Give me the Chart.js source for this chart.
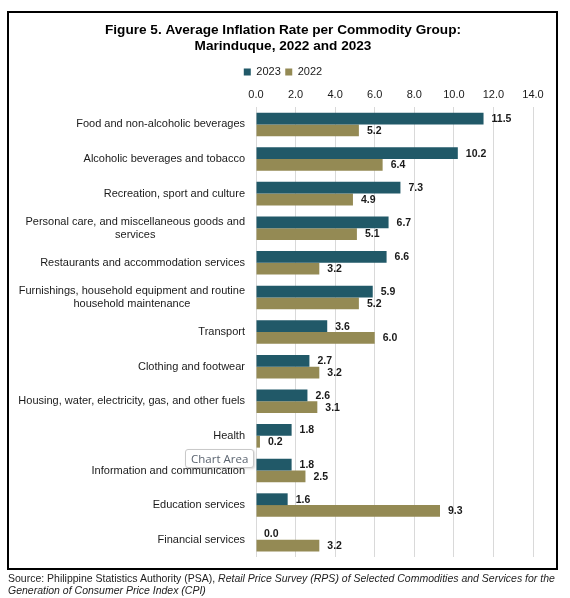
<!DOCTYPE html>
<html>
<head>
<meta charset="utf-8">
<script src="https://cdn.jsdelivr.net/npm/chart.js@4"></script>
<style>
  html, body { margin: 0; padding: 0; background: #fff; overflow: hidden; }
  body { width: 570px; height: 598px; position: relative; font-family: "Liberation Sans", Arial, sans-serif; }
  #wrap { position: absolute; left: 0; top: 0; width: 570px; height: 598px; }
  #frame { position: absolute; left: 7px; top: 11px; width: 551px; height: 559px; border: 2px solid #000; box-sizing: border-box; pointer-events: none; }
  #source { position: absolute; left: 8px; top: 572px; font-size: 10.5px; line-height: 12px; color: #222; white-space: nowrap; }
  #tip { position: absolute; left: 185px; top: 449px; padding: 0 5px; height: 17px; line-height: 17px; font-family: "Open Sans", sans-serif; font-size: 11.5px; color: #5b6470; background: #fff; border: 1px solid #c9c9c9; border-radius: 3px; box-shadow: 1px 1px 2px rgba(0,0,0,0.15); }
</style>
</head>
<body>
<div id="wrap"><canvas id="myChart"></canvas></div>
<div id="frame"></div>
<div id="tip">Chart Area</div>
<div id="source">Source: Philippine Statistics Authority (PSA), <i>Retail Price Survey (RPS) of Selected Commodities and Services for the</i><br><i>Generation of Consumer Price Index (CPI)</i></div>
<script>
const categories = [
    'Food and non-alcoholic beverages',
    'Alcoholic beverages and tobacco',
    'Recreation, sport and culture',
    ['Personal care, and miscellaneous goods and', 'services'],
    'Restaurants and accommodation services',
    ['Furnishings, household equipment and routine', 'household maintenance'],
    'Transport',
    'Clothing and footwear',
    'Housing, water, electricity, gas, and other fuels',
    'Health',
    'Information and communication',
    'Education services',
    'Financial services'
];
const values2023 = [11.5, 10.2, 7.3, 6.7, 6.6, 5.9, 3.6, 2.7, 2.6, 1.8, 1.8, 1.6, 0.0];
const values2022 = [5.2, 6.4, 4.9, 5.1, 3.2, 5.2, 6.0, 3.2, 3.1, 0.2, 2.5, 9.3, 3.2];
const axisMin = 0;
const axisMax = 14;
const axisStep = 2;

const FONT = '"Liberation Sans", Arial, sans-serif';
const TEXT = '#1a1a1a';

// category names: right aligned block, lines centred inside it (like Excel)
const categoryLabels = {
    id: 'categoryLabels',
    afterDraw(chart) {
        const ctx = chart.ctx;
        const yScale = chart.scales.y;
        const rightEdge = chart.chartArea.left - 11;
        ctx.save();
        ctx.font = '11px ' + FONT;
        ctx.fillStyle = TEXT;
        ctx.textAlign = 'center';
        ctx.textBaseline = 'middle';
        categories.forEach((label, i) => {
            const lines = Array.isArray(label) ? label : [label];
            const w = Math.max(...lines.map(l => ctx.measureText(l).width));
            const cx = rightEdge - w / 2;
            const lh = 12.5;
            const y0 = yScale.getPixelForValue(i) - (lines.length - 1) * lh / 2;
            lines.forEach((l, j) => ctx.fillText(l, cx, y0 + j * lh));
        });
        ctx.restore();
    }
};

// value labels at the end of each bar
const valueLabels = {
    id: 'valueLabels',
    afterDatasetsDraw(chart) {
        const ctx = chart.ctx;
        ctx.save();
        ctx.font = 'bold 10.5px ' + FONT;
        ctx.fillStyle = TEXT;
        ctx.textAlign = 'left';
        ctx.textBaseline = 'middle';
        chart.data.datasets.forEach((ds, di) => {
            chart.getDatasetMeta(di).data.forEach((bar, i) => {
                ctx.fillText(ds.data[i].toFixed(1), bar.x + 8, bar.y + 0.5);
            });
        });
        ctx.restore();
    }
};

const ctx = document.getElementById('myChart').getContext('2d');
const myChart = new Chart(ctx, {
    type: 'bar',
    data: {
        labels: categories,
        datasets: [
            {
                label: '2023',
                data: values2023,
                backgroundColor: '#215968',
                categoryPercentage: 0.68,
                barPercentage: 1.0
            },
            {
                label: '2022',
                data: values2022,
                backgroundColor: '#948A54',
                categoryPercentage: 0.68,
                barPercentage: 1.0
            }
        ]
    },
    options: {
        indexAxis: 'y',
        responsive: true,
        maintainAspectRatio: false,
        animation: false,
        layout: { padding: { left: 33, right: 37, top: 0, bottom: 41 } },
        plugins: {
            title: {
                display: true,
                text: ['Figure 5. Average Inflation Rate per Commodity Group:', 'Marinduque, 2022 and 2023'],
                color: '#000',
                font: { family: FONT, size: 13.6, weight: 'bold', lineHeight: 1.18 },
                padding: { top: 22, bottom: 8 }
            },
            legend: {
                display: true,
                labels: {
                    color: TEXT,
                    font: { family: FONT, size: 11 },
                    boxWidth: 7,
                    boxHeight: 7,
                    padding: 4.5
                }
            },
            tooltip: { enabled: false }
        },
        scales: {
            x: {
                position: 'top',
                min: axisMin,
                max: axisMax,
                ticks: {
                    stepSize: axisStep,
                    color: TEXT,
                    font: { family: FONT, size: 11 },
                    padding: 5.5,
                    callback: v => Number(v).toFixed(1)
                },
                grid: { color: '#d9d9d9', drawTicks: false },
                border: { display: false },
                afterFit(scale) { scale.height = 19.5; }
            },
            y: {
                ticks: { display: false },
                grid: { display: false },
                border: { display: false },
                afterFit(scale) { scale.width = 223; }
            }
        }
    },
    plugins: [categoryLabels, valueLabels]
});
</script>
</body>
</html>
